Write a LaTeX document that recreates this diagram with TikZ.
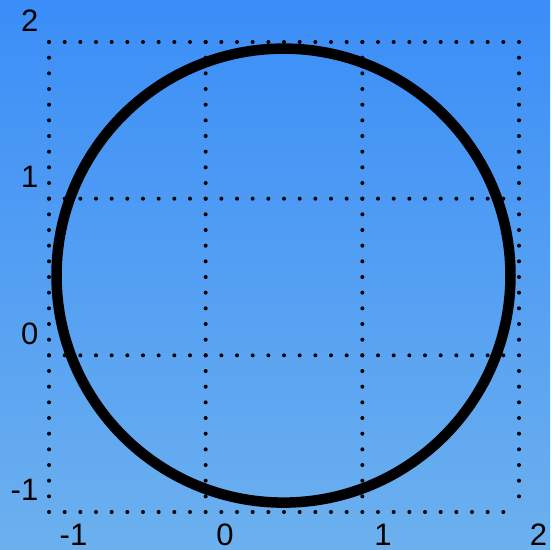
\documentclass[tikz,border=0pt]{standalone}
\usepackage{fontspec}
\setmainfont{Liberation Sans}
\definecolor{bgtop}{RGB}{59,142,248}
\definecolor{bgbot}{RGB}{108,176,238}
\begin{document}
\begin{tikzpicture}[x=1pt,y=-1pt,
  gridline/.style={line width=4pt,line cap=round,dash pattern=on 0pt off 15.667pt},
  ring/.style={line width=10.5pt},
  lbl/.style={inner sep=0pt,font=\fontsize{31}{36}\selectfont},
  ylbl/.style={lbl,anchor=east}]
\useasboundingbox (0,0) rectangle (550,550);
\shade[top color=bgtop,bottom color=bgbot] (0,0) rectangle (550,550);
% grid
\foreach \v in {49,205.667,362.333,519}{
  \draw[gridline] (\v,42) -- (\v,512);
}
\foreach \h in {42,198.667,355.333,512}{
  \draw[gridline] (49,\h) -- (519,\h);
}
% circle
\coordinate (c) at (283.5,275.6);
\draw[ring] (c) circle[radius=227];
% y labels
\node[ylbl] (y2) at (38.5,20.5) {2};
\node[ylbl] (y1) at (38.5,176.5) {1};
\node[ylbl] (y0) at (38.5,334) {0};
\node[ylbl] (ym1) at (38.5,490) {-1};
% x labels
\node[lbl] (xm1) at (73.5,534.5) {-1};
\node[lbl] (x0) at (225,534.5) {0};
\node[lbl] (x1) at (383,534.5) {1};
\node[lbl] (x2) at (538.5,534.5) {2};
\end{tikzpicture}
\end{document}
